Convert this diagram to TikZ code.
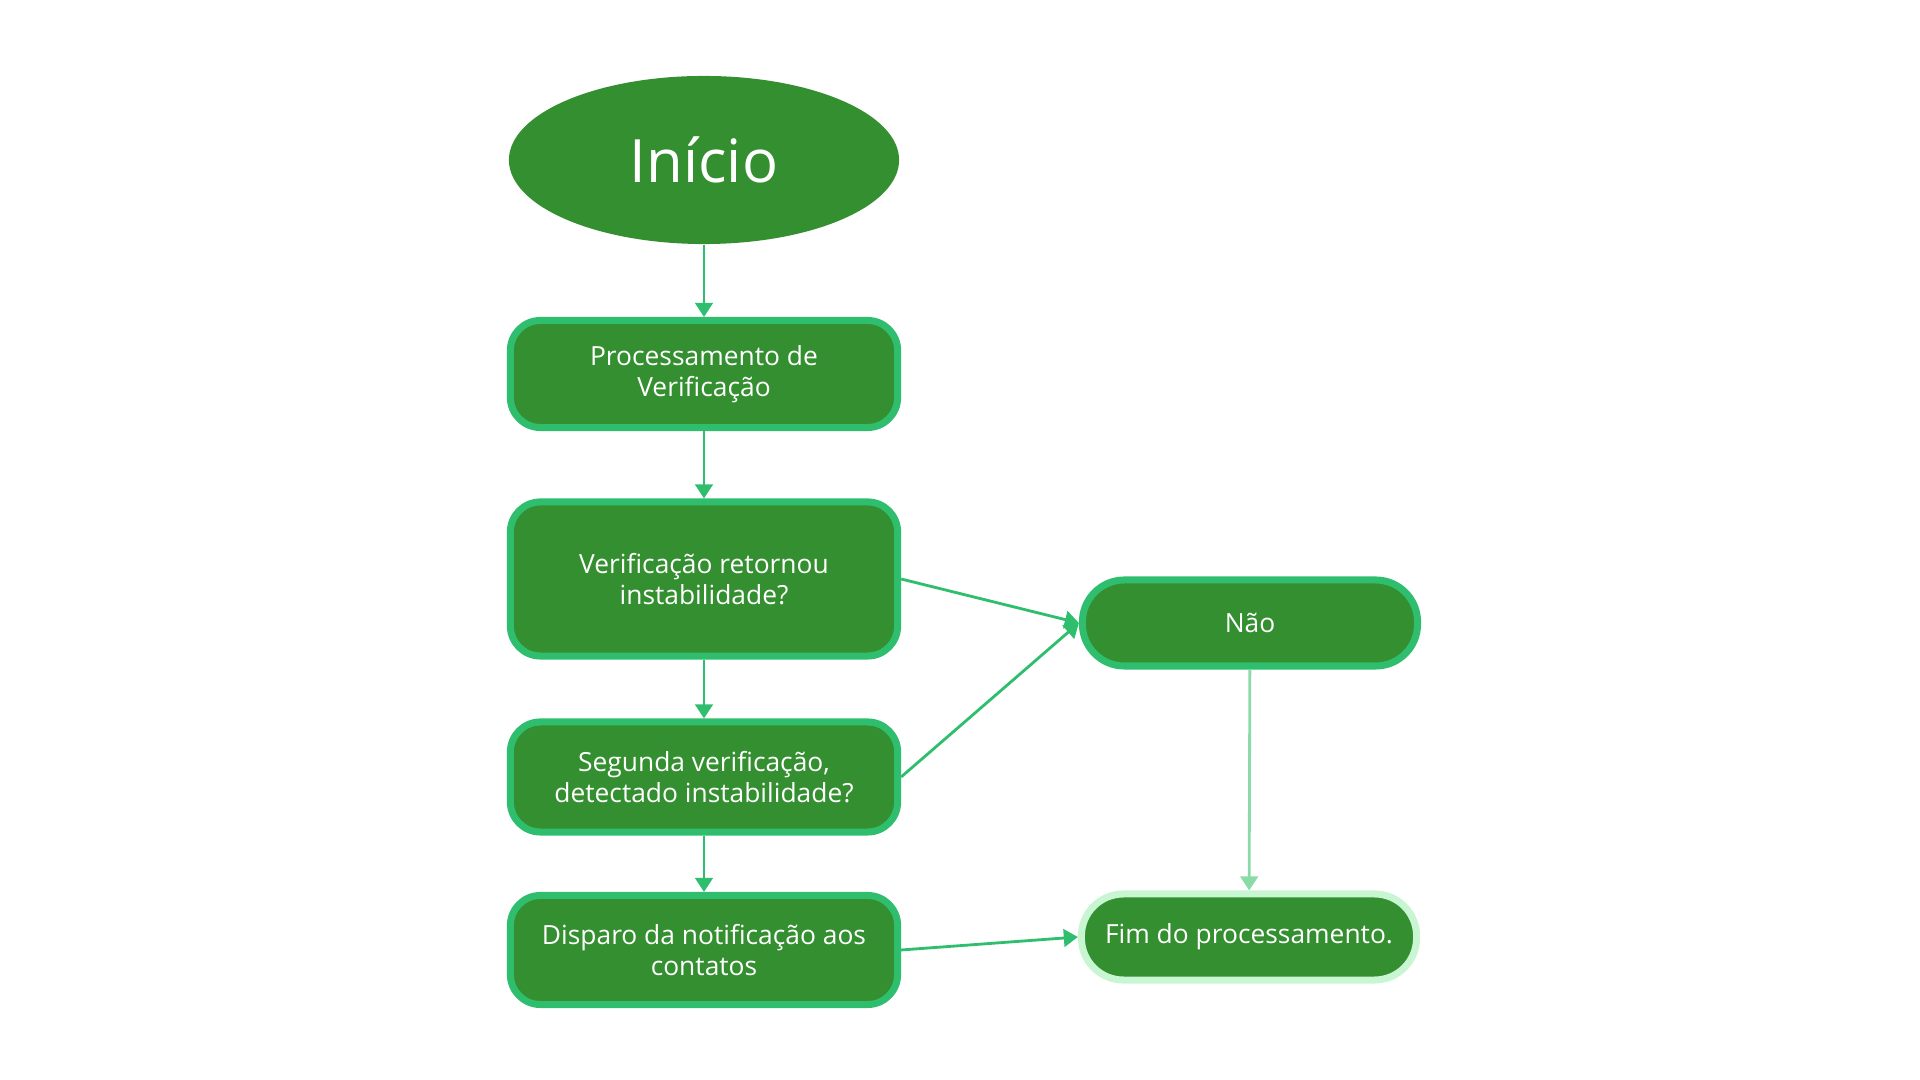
\documentclass[tikz,border=0pt]{standalone}
\usepackage{fontspec}
\setmainfont{Open Sans}
\usetikzlibrary{shapes.geometric,arrows.meta}
\definecolor{boxgreen}{HTML}{338F2F}
\definecolor{edgegreen}{HTML}{2EBE6E}
\definecolor{palegreen}{HTML}{C8F5D2}
\definecolor{linegreen}{HTML}{8ADBA8}
\tikzset{
  stepbox/.style={draw=edgegreen, line width=2pt, fill=boxgreen, text=white,
    rounded corners=0.3cm, align=center, font=\fontsize{7.5}{9}\selectfont,
    minimum width=3.87cm, inner sep=0pt},
  pill/.style={draw=edgegreen, line width=2pt, fill=boxgreen, text=white,
    rounded corners=0.42cm, align=center, font=\fontsize{7.5}{9}\selectfont,
    minimum width=3.35cm, minimum height=0.86cm, inner sep=0pt},
  link/.style={draw=edgegreen, line width=0.8pt, -{Triangle[length=4pt,width=5pt]}}
}
\begin{document}
\begin{tikzpicture}[x=0.01cm, y=-0.01cm]
\useasboundingbox (0,0) rectangle (1920,1080);
% start
\node[ellipse, fill=boxgreen, text=white, minimum width=3.9cm, minimum height=1.68cm,
  font=\fontsize{17}{20}\selectfont] (inicio) at (704,160) {Início};
% main column
\node[stepbox, minimum height=1.07cm] (proc) at (704,374) {Processamento de\\Verificação};
\node[stepbox, minimum height=1.54cm] (verif) at (704,579) {Verificação retornou\\instabilidade?};
\node[stepbox, minimum height=1.10cm] (segunda) at (704,777) {Segunda verificação,\\detectado instabilidade?};
\node[stepbox, minimum height=1.09cm] (disparo) at (704,950) {Disparo da notificação aos\\contatos};
% right column
\node[pill] (nao) at (1250,623) {Não};
\node[pill, draw=palegreen] (fim) at (1249,937) {Fim do processamento.};

\draw[link] (inicio) -- (proc);
\draw[link] (proc) -- (verif);
\draw[link] (verif) -- (segunda);
\draw[link] (segunda) -- (disparo);
\draw[link] (verif.east) -- (nao.west);
\draw[link] (segunda.east) -- (nao.west);
\draw[link, draw=linegreen] (nao) -- (fim);
\draw[link] (disparo.east) -- (fim.west);
\end{tikzpicture}
\end{document}
